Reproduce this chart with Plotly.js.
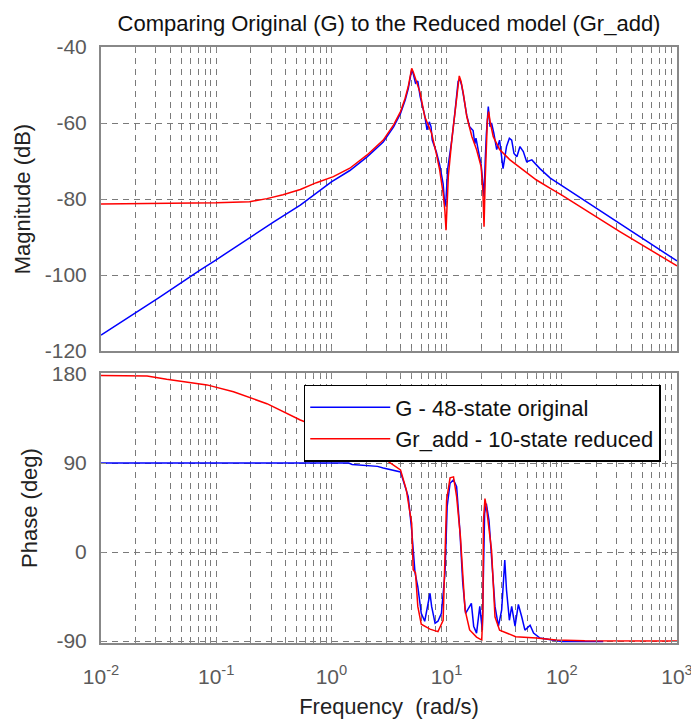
<!DOCTYPE html>
<html>
<head>
<meta charset="utf-8">
<script src="https://cdn.plot.ly/plotly-3.0.1.min.js"></script>
<style>html,body{margin:0;padding:0;background:#fff;}#chart{width:691px;height:719px;}</style>
</head>
<body>
<div id="chart"></div>
<script>
// ---- Data (frequency given as log10 of rad/s) ----
const seriesNames = ['G - 48-state original', 'Gr_add - 10-state reduced'];
const xTickVals = [0.01, 0.1, 1, 10, 100, 1000];
const xTickText = ['10<sup>-2</sup>', '10<sup>-1</sup>', '10<sup>0</sup>', '10<sup>1</sup>', '10<sup>2</sup>', '10<sup>3</sup>'];
const magTicks = [-120, -100, -80, -60, -40];
const magTickText = ['-120', '-100', '-80', '-60', '-40'];
const phaseTicks = [-90, 0, 90, 180];
const phaseTickText = ['-90', '0', '90', '180'];

// Magnitude, original G
const magLogFreqG = [-2.0,-1.5,-1.14,-1.0,-0.5,-0.27,0.0,0.16,0.31,0.335,0.45,0.54,0.60,0.64,0.667,0.685,0.697,0.71,0.73,0.75,0.77,0.81,0.83,0.85,0.865,0.875,0.91,0.94,0.97,0.985,0.995,1.01,1.045,1.073,1.10,1.115,1.13,1.145,1.175,1.20,1.23,1.245,1.255,1.28,1.30,1.315,1.325,1.335,1.345,1.362,1.377,1.39,1.41,1.435,1.46,1.49,1.52,1.545,1.565,1.585,1.61,1.637,1.666,1.695,1.74,1.81,1.9,2.0,2.5,3.0];
const magG = [-115.8,-106,-98.7,-96,-86,-81.6,-75.5,-72.5,-68.9,-68.2,-65,-61,-57.5,-54,-51,-48,-46,-47,-49.5,-49,-53,-58,-61.8,-59.7,-61,-64.5,-67.5,-71,-76,-82,-80,-72,-64.5,-57,-49,-48.5,-50,-52.5,-58,-61,-62,-65.5,-64,-68,-71,-76,-79.4,-70,-63,-55.7,-61,-60,-62.7,-67,-64.5,-72,-66.2,-64,-64.5,-68,-68.9,-66.2,-67.5,-70.2,-69.7,-72,-74.5,-76.5,-86.5,-96.3];

// Magnitude, reduced Gr_add
const magLogFreqR = [-2.0,-1.5,-1.0,-0.71,-0.56,-0.42,-0.27,-0.13,0.017,0.16,0.31,0.45,0.54,0.60,0.64,0.667,0.685,0.697,0.71,0.74,0.77,0.81,0.87,0.91,0.94,0.97,0.985,0.995,1.005,1.015,1.045,1.073,1.10,1.11,1.125,1.145,1.175,1.22,1.26,1.30,1.315,1.325,1.335,1.342,1.354,1.365,1.38,1.405,1.46,1.55,1.666,1.78,1.9,2.0,2.5,3.0];
const magR = [-81.3,-81.2,-81.0,-80.7,-79.9,-78.9,-77.5,-75.7,-74.1,-71.9,-68.4,-64.5,-60.5,-57,-53.5,-50.4,-47.5,-45.6,-46.5,-49.6,-52,-58.3,-62.7,-68,-72.4,-78.5,-83,-88.2,-80,-74,-64.5,-57,-48.7,-47.6,-49,-52.2,-58.3,-63.6,-67,-71.5,-78,-87.3,-75,-68.9,-59.2,-57,-60,-63.6,-67,-69.7,-72.4,-75,-77.2,-79,-88.5,-97.6];

// Phase, original G
const phLogFreqG = [-2.0,0.15,0.18,0.4,0.45,0.6,0.667,0.697,0.726,0.75,0.78,0.81,0.856,0.87,0.9,0.925,0.955,0.986,1.005,1.03,1.06,1.087,1.115,1.14,1.165,1.2,1.215,1.235,1.26,1.288,1.31,1.33,1.345,1.368,1.39,1.42,1.45,1.478,1.505,1.52,1.545,1.565,1.594,1.623,1.652,1.68,1.725,1.755,1.81,1.9,2.0,2.36];
const phaseG = [90,90,88.5,86.6,85,81,56,22,-21,-35,-62,-70,-41.7,-55,-72,-70,-62,-21,46,69.5,73,66,22,-31,-62,-55,-52,-75,-82,-55,-79,39,49,32,-4.5,-55,-75,-58.6,-8,-38.4,-69,-55,-75,-53,-65.5,-79,-74,-82,-87,-89,-90.5,-90.5];

// Phase, reduced Gr_add
const phLogFreqR = [-2.0,-1.6,-1.43,-1.08,-0.85,-0.56,-0.27,0.0,0.2,0.35,0.45,0.6,0.65,0.697,0.71,0.73,0.75,0.78,0.856,0.925,0.97,1.0,1.03,1.06,1.087,1.12,1.16,1.2,1.26,1.305,1.315,1.32,1.333,1.345,1.39,1.42,1.46,1.6,1.78,1.95,2.2,3.0];
const phaseR = [178.5,178,174.6,169,162,150,133.5,121,110,100,95,83,63,29,-18,-21,-55,-73,-78,-80.5,-69,52.6,75,76,56,15.5,-58.6,-78.8,-86,-89,-60,32,54,46,2,-65.5,-79,-85.6,-87,-89,-89.8,-90];

const toFreq = a => a.map(v => Math.pow(10, v));

const blue = '#0000ff', red = '#ff0000';
const traces = [
  {x: toFreq(magLogFreqG), y: magG, xaxis: 'x2', yaxis: 'y2', mode: 'lines', line: {color: blue, width: 1.5}, name: seriesNames[0], showlegend: false},
  {x: toFreq(magLogFreqR), y: magR, xaxis: 'x2', yaxis: 'y2', mode: 'lines', line: {color: red, width: 1.5}, name: seriesNames[1], showlegend: false},
  {x: toFreq(phLogFreqG), y: phaseG, xaxis: 'x', yaxis: 'y', mode: 'lines', line: {color: blue, width: 1.5}, name: seriesNames[0]},
  {x: toFreq(phLogFreqR), y: phaseR, xaxis: 'x', yaxis: 'y', mode: 'lines', line: {color: red, width: 1.5}, name: seriesNames[1]}
];

const FONT = 'Liberation Sans, Arial, sans-serif';
const gridColor = '#7a7a7a';
const gridDash = '6px,5px';
const tickFont = {family: FONT, size: 21, color: '#5a5a5a'};
const lineCommon = {showline: true, linecolor: '#888', linewidth: 2, mirror: 'allticks', ticks: 'inside', ticklen: 5, tickcolor: '#888', zeroline: false, ticklabeloverflow: 'allow'};
const minorX = {dtick: 'D1', ticks: 'inside', ticklen: 3, tickcolor: '#888', showgrid: true, gridcolor: gridColor, griddash: gridDash, gridwidth: 1};

const layout = {
  width: 691, height: 719,
  margin: {l: 101, r: 14, t: 47, b: 76},
  paper_bgcolor: '#fff', plot_bgcolor: '#fff',
  font: {family: FONT, size: 22, color: '#222'},
  title: {text: 'Comparing Original (G) to the Reduced model (Gr_add)', font: {family: FONT, size: 22, color: '#111'}, x: 0.5, xref: 'paper', y: 1 - 23/719, yref: 'container', yanchor: 'middle'},
  showlegend: true,
  legend: {x: 0.352, y: 0.433, xanchor: 'left', yanchor: 'top', bgcolor: '#fff', bordercolor: '#000', borderwidth: 1.5, font: {family: FONT, size: 22, color: '#111'}, itemwidth: 80, tracegroupgap: 0},
  xaxis: Object.assign({}, lineCommon, {type: 'log', range: [-2, 3], anchor: 'y', tickvals: xTickVals, ticktext: xTickText, tickfont: tickFont, showgrid: true, gridcolor: gridColor, griddash: gridDash, gridwidth: 1, minor: minorX, ticklabelstandoff: 14,
    title: {text: 'Frequency  (rad/s)', font: {family: FONT, size: 22, color: '#222'}, standoff: 12}}),
  xaxis2: Object.assign({}, lineCommon, {type: 'log', range: [-2, 3], anchor: 'y2', matches: 'x', tickvals: xTickVals, showticklabels: false, showgrid: true, gridcolor: gridColor, griddash: gridDash, gridwidth: 1, minor: minorX}),
  yaxis: Object.assign({}, lineCommon, {domain: [0, 0.453], anchor: 'x', range: [-92, 181], tickvals: phaseTicks, ticktext: phaseTickText, tickfont: tickFont, showgrid: true, gridcolor: gridColor, griddash: gridDash, gridwidth: 1, ticklabelstandoff: 8,
    title: {text: 'Phase (deg)', font: {family: FONT, size: 22, color: '#222'}, standoff: 8}}),
  yaxis2: Object.assign({}, lineCommon, {domain: [0.4899, 1], anchor: 'x2', range: [-120, -40], tickvals: magTicks, ticktext: magTickText, tickfont: tickFont, showgrid: true, gridcolor: gridColor, griddash: gridDash, gridwidth: 1, ticklabelstandoff: 8,
    title: {text: 'Magnitude (dB)', font: {family: FONT, size: 22, color: '#222'}, standoff: 8}})
};

Plotly.newPlot('chart', traces, layout, {staticPlot: true, displayModeBar: false});
</script>
</body>
</html>
